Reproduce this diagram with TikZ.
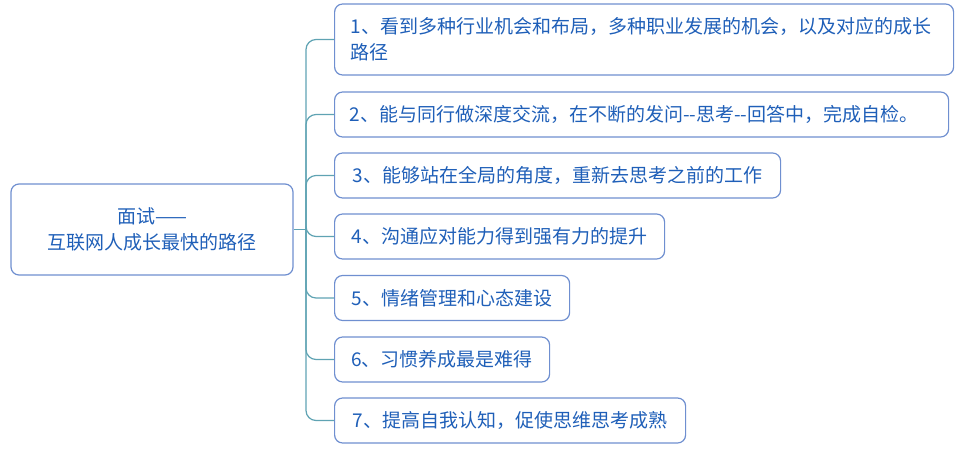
\documentclass[tikz,border=0pt]{standalone}
\usepackage{fontspec}
\setmainfont{Noto Sans CJK SC}
\definecolor{boxline}{HTML}{6F8FD0}
\definecolor{boxtext}{HTML}{1F5FB8}
\definecolor{branch}{HTML}{5FA3B3}
\tikzset{
	topic/.style={draw=boxline, line width=1.2pt, rounded corners=8pt, text=boxtext,
		font=\fontsize{19}{26}\selectfont, minimum height=45pt, inner sep=0pt},
	branchline/.style={draw=branch, line width=1.2pt, rounded corners=10pt}
}
\begin{document}
\begin{tikzpicture}[x=1pt,y=-1pt]
%
	\useasboundingbox (0,0) rectangle (969,448);
	\node[topic, align=center, minimum width=282pt, minimum height=91pt] (root) at (152,229.5) {面试——\\互联网人成长最快的路径};
	\coordinate (fork) at (306,229.5);
%
	\node[topic, anchor=west, align=left, text width=587pt, minimum height=71pt, inner xsep=16pt] (b1) at (334,39.5) {1、看到多种行业机会和布局，多种职业发展的机会，以及对应的成长\\路径};
	\node[topic, anchor=west, align=left, text width=584pt, inner xsep=15pt] (b2) at (334,114.5) {2、能与同行做深度交流，在不断的发问-{}-思考-{}-回答中，完成自检。};
	\node[topic, anchor=west, minimum width=446pt] (b3) at (334,175.5) {3、能够站在全局的角度，重新去思考之前的工作};
	\node[topic, anchor=west, minimum width=330pt] (b4) at (334,236.5) {4、沟通应对能力得到强有力的提升};
	\node[topic, anchor=west, minimum width=235pt] (b5) at (334,298) {5、情绪管理和心态建设};
	\node[topic, anchor=west, minimum width=215pt] (b6) at (334,359.5) {6、习惯养成最是难得};
	\node[topic, anchor=west, minimum width=351pt] (b7) at (334,420.5) {7、提高自我认知，促使思维思考成熟};
%
	\draw[branchline, rounded corners=0pt] (root.east) -- (fork);
	\foreach \k in {1,...,7}
		\draw[branchline] (fork) |- (b\k.west);
%
\end{tikzpicture}
\end{document}
